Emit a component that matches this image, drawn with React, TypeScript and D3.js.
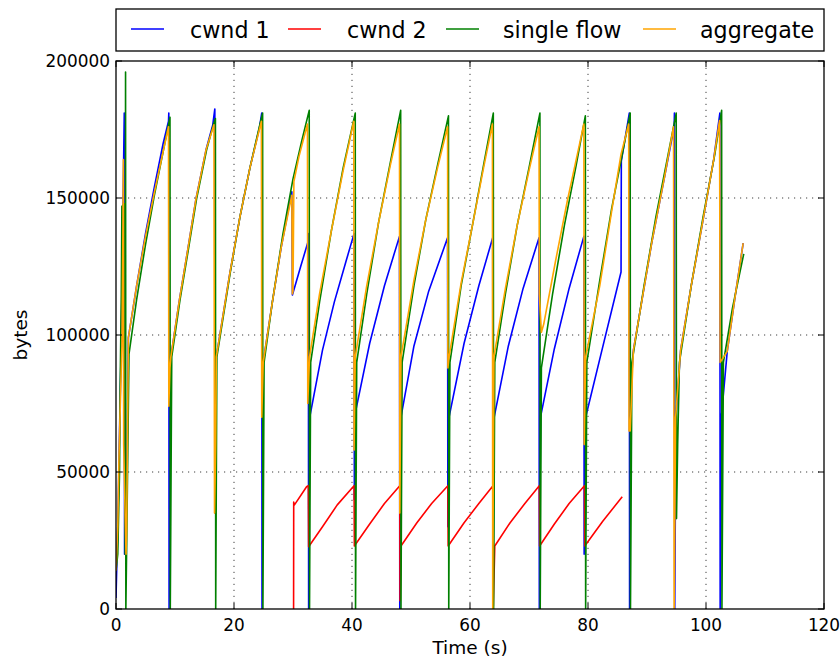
import React from 'react';
import * as d3 from 'd3';

type Pt = [number, number];

const xTicks = [0, 20, 40, 60, 80, 100, 120];
const yTicks = [0, 50000, 100000, 150000, 200000];
const xGrid = [20, 40, 60, 80, 100];
const yGrid = [50000, 100000, 150000];

// cwnd of flow 1 (time s, bytes)
const cwnd1: Pt[] = [
  [0, 4000], [0.3, 30000], [0.6, 65000], [0.9, 98000], [1.15, 140000], [1.4, 181000], [1.45, 20000], [1.7, 40000], [1.9, 60000], [2.1, 99000],
  [3.5, 118000], [5.0, 137000], [6.5, 154000], [8.0, 170000], [8.9, 178000], [8.95, 181000], [9.0, 0], [9.3, 92000],
  [10.75, 112800], [12.15, 131000], [13.55, 149600], [15.25, 167500], [16.4, 176700], [16.75, 182500], [16.8, 35000], [17.0, 92000],
  [19.3, 122600], [21.0, 143000], [22.7, 161000], [24.3, 175500], [24.7, 181000], [24.75, 0], [24.95, 90000],
  [26.5, 112000], [28.0, 132000], [29.8, 152300], [29.9, 114600], [31.3, 125000], [32.55, 134000], [32.6, 137000], [32.65, 0], [32.8, 69600],
  [35.0, 94500], [37.0, 112000], [39.0, 127000], [40.35, 137000], [40.4, 40000], [40.55, 71500],
  [43.0, 97000], [45.5, 118000], [48.05, 136000], [48.1, 0], [48.3, 70000],
  [50.5, 96000], [53.0, 116000], [56.2, 135500], [56.25, 30000], [56.45, 70000],
  [59.0, 97000], [61.5, 118000], [63.85, 135500], [63.9, 10000], [64.1, 70000],
  [66.5, 96000], [69.0, 117000], [71.7, 135500], [71.75, 0], [71.95, 70000],
  [74.3, 95000], [76.8, 117000], [79.3, 136000], [79.35, 20000], [79.6, 70000],
  [82.2, 93000], [85.6, 123000], [85.65, 163500], [87.0, 181000], [87.05, 0], [87.25, 80000], [87.7, 94500],
  [90.8, 133600], [93.0, 158000], [94.6, 176000], [94.65, 181000], [94.7, 0], [94.9, 70000], [95.7, 94500],
  [97.5, 118000], [99.5, 142000], [101.3, 164000], [102.35, 181000], [102.4, 0], [102.6, 70000], [103.6, 94000], [105.0, 115000], [106.3, 133500],
];

// cwnd of flow 2
const cwnd2: Pt[] = [
  [30.1, 0], [30.12, 39000], [30.25, 38000], [32.3, 44600], [32.6, 45000], [32.65, 22700],
  [35.0, 30000], [37.5, 38000], [40.35, 45000], [40.4, 23000],
  [43.0, 31000], [45.5, 38500], [48.1, 45000], [48.15, 3000], [48.3, 23000],
  [51.0, 31500], [53.5, 38500], [56.25, 45000], [56.3, 23000],
  [59.0, 31500], [61.5, 38500], [63.9, 45000], [63.95, 1000], [64.2, 23000],
  [66.8, 31500], [69.3, 38500], [71.75, 45000], [71.8, 23000],
  [74.3, 31000], [76.8, 38500], [79.4, 45000], [79.45, 23000],
  [82.5, 32000], [85.8, 41000],
];

// single flow run
const singleFlow: Pt[] = [
  [0, 14000], [0.3, 20000], [0.6, 50000], [0.7, 80000], [0.9, 115000], [1.0, 147000], [1.5, 148000], [1.55, 20000], [1.62, 196000], [1.67, 0], [1.85, 30000], [2.2, 93000],
  [3.5, 113000], [5.0, 133000], [6.5, 151000], [8.0, 167000], [9.15, 179500], [9.2, 0], [9.45, 92000],
  [10.85, 112800], [12.25, 131000], [13.65, 149600], [15.35, 167500], [16.5, 176700], [16.85, 179000], [16.9, 0], [17.1, 92000],
  [19.35, 122600], [21.0, 143000], [22.7, 161000], [24.3, 176000], [24.85, 181000], [24.9, 0], [25.1, 90000],
  [26.5, 112000], [28.3, 137000], [30.0, 157000], [31.5, 171000], [32.75, 182000], [32.8, 0], [33.0, 90000],
  [34.5, 112000], [36.5, 138000], [38.5, 161000], [40.55, 181000], [40.6, 0], [40.8, 90000],
  [42.5, 115000], [44.5, 141000], [46.5, 163000], [48.25, 182000], [48.3, 0], [48.5, 90000],
  [50.5, 118000], [52.5, 142000], [54.5, 162000], [56.35, 180000], [56.4, 0], [56.6, 90000],
  [58.5, 118000], [60.5, 141000], [62.3, 162000], [63.95, 181000], [64.0, 0], [64.2, 90000],
  [66.0, 115000], [68.0, 140000], [70.0, 161000], [71.85, 181000], [71.9, 0], [72.1, 88000],
  [74.0, 115000], [76.0, 140000], [78.0, 162000], [79.55, 180000], [79.6, 0], [79.8, 90000],
  [82.0, 120000], [84.0, 146000], [86.0, 168000], [87.15, 181000], [87.2, 0], [87.45, 90000],
  [89.5, 118000], [91.5, 143000], [93.5, 165000], [94.95, 181000], [95.0, 33000], [95.2, 60000], [95.5, 90000],
  [97.5, 118000], [99.5, 143000], [101.5, 166000], [102.65, 182000], [102.7, 0], [102.95, 90000],
  [104.5, 110000], [106.4, 129600],
];

// aggregate of both flows
const aggregate: Pt[] = [
  [0, 14000], [0.3, 30000], [0.5, 55000], [0.8, 80000], [1.0, 96000], [1.15, 132000], [1.25, 164000], [1.3, 60000], [1.5, 40000], [1.7, 20000], [1.8, 28000], [2.1, 99000],
  [3.5, 118000], [5.0, 136000], [6.5, 152000], [8.0, 167000], [8.9, 176000], [8.95, 74000], [9.15, 88000], [9.3, 92000],
  [10.75, 112800], [12.15, 131000], [13.55, 149600], [15.25, 167500], [16.6, 176700], [16.7, 35000], [16.9, 60000], [17.0, 92000],
  [19.3, 122600], [21.0, 143000], [22.7, 161000], [24.3, 175000], [24.65, 178000], [24.7, 70000], [24.95, 90000],
  [26.5, 112000], [28.0, 132000], [29.8, 151000], [29.9, 115000], [30.0, 116000], [30.15, 156000], [31.0, 165000], [32.45, 177000], [32.5, 75000], [32.8, 92000],
  [34.5, 115000], [36.5, 138000], [38.5, 160000], [40.3, 178000], [40.35, 58000], [40.55, 92000],
  [42.5, 118000], [44.5, 141000], [46.5, 162000], [48.05, 177000], [48.1, 35000], [48.3, 92000],
  [50.5, 120000], [52.5, 142000], [54.5, 161000], [56.2, 176000], [56.25, 88000], [56.45, 92000],
  [58.5, 119000], [60.5, 141000], [62.3, 161000], [63.8, 177000], [63.85, 0], [64.05, 92000],
  [66.0, 117000], [68.0, 140000], [70.0, 160000], [71.7, 176000], [71.75, 115000], [72.1, 101000], [72.5, 104000],
  [74.5, 127000], [76.5, 149000], [78.3, 167000], [79.3, 177000], [79.35, 60000], [79.6, 92000],
  [82.0, 118000], [84.0, 145000], [85.6, 166000], [86.9, 177000], [86.95, 65000], [87.15, 65000], [87.7, 94500],
  [90.8, 133600], [93.0, 158000], [94.5, 176000], [94.6, 0], [94.85, 70000], [95.7, 94500],
  [97.5, 118000], [99.5, 142000], [101.3, 164000], [102.3, 178300], [102.4, 90000], [103.6, 94000], [105.0, 115000], [106.3, 133500],
];

const series = [
  { name: 'cwnd 1', color: '#0000ff', data: cwnd1, lx: 131, tx: 190 },
  { name: 'cwnd 2', color: '#ff0000', data: cwnd2, lx: 288, tx: 347 },
  { name: 'single flow', color: '#008000', data: singleFlow, lx: 446, tx: 503 },
  { name: 'aggregate', color: '#ffa500', data: aggregate, lx: 643, tx: 700 },
];

const W = 840, H = 662;
const margin = { top: 61, right: 16, bottom: 53, left: 116 };
const font = '"DejaVu Sans", sans-serif';

export default function App() {
  const x = d3.scaleLinear().domain([0, 120]).range([margin.left, W - margin.right]);
  const y = d3.scaleLinear().domain([0, 200000]).range([H - margin.bottom, margin.top]);
  const line = d3.line<Pt>().x(d => x(d[0])).y(d => y(d[1]));
  const [x0, x1] = x.range();
  const [y0, y1] = y.range();
  const tick = 6;

  return (
    <svg width={W} height={H} style={{ position: 'absolute', left: 0, top: 0, background: '#fff' }} fontFamily={font}>
      <defs>
        <clipPath id="plot">
          <rect x={x0} y={y1} width={x1 - x0} height={y0 - y1} />
        </clipPath>
      </defs>
      <rect x={0} y={0} width={W} height={H} fill="#fff" />

      {/* grid */}
      <g stroke="#000" strokeWidth={1} strokeDasharray="1.2,4.8" opacity={0.75}>
        {xGrid.map(t => <line key={'gx' + t} x1={x(t)} x2={x(t)} y1={y0} y2={y1} />)}
        {yGrid.map(t => <line key={'gy' + t} x1={x0} x2={x1} y1={y(t)} y2={y(t)} />)}
      </g>

      {/* data */}
      <g clipPath="url(#plot)" fill="none" strokeWidth={1.6} strokeLinejoin="round">
        {series.map(s => <path key={s.name} d={line(s.data) || ''} stroke={s.color} />)}
      </g>

      {/* ticks */}
      <g stroke="#000" strokeWidth={1}>
        {xTicks.map(t => (
          <g key={'tx' + t}>
            <line x1={x(t)} x2={x(t)} y1={y0} y2={y0 - tick} />
            <line x1={x(t)} x2={x(t)} y1={y1} y2={y1 + tick} />
          </g>
        ))}
        {yTicks.map(t => (
          <g key={'ty' + t}>
            <line x1={x0} x2={x0 + tick} y1={y(t)} y2={y(t)} />
            <line x1={x1} x2={x1 - tick} y1={y(t)} y2={y(t)} />
          </g>
        ))}
      </g>
      <rect x={x0} y={y1} width={x1 - x0} height={y0 - y1} fill="none" stroke="#000" strokeWidth={1.3} />

      {/* tick labels */}
      <g fontSize={16.9} fill="#000">
        {xTicks.map(t => (
          <text key={'lx' + t} x={x(t)} y={y0 + 22} textAnchor="middle">{t}</text>
        ))}
        {yTicks.map(t => (
          <text key={'ly' + t} x={x0 - 6} y={y(t) + 6} textAnchor="end">{t}</text>
        ))}
      </g>
      <g fontSize={18.5} fill="#000">
        <text x={(x0 + x1) / 2} y={654} textAnchor="middle">Time (s)</text>
        <text transform={`translate(27,${(y0 + y1) / 2}) rotate(-90)`} textAnchor="middle">bytes</text>
      </g>

      {/* legend */}
      <rect x={x0} y={9} width={x1 - x0} height={42} fill="#fff" stroke="#000" strokeWidth={1.3} />
      <g fontSize={22.2}>
        {series.map(s => (
          <g key={'lg' + s.name}>
            <line x1={s.lx} x2={s.lx + 33} y1={29} y2={29} stroke={s.color} strokeWidth={1.6} />
            <text x={s.tx} y={38}>{s.name}</text>
          </g>
        ))}
      </g>
    </svg>
  );
}
